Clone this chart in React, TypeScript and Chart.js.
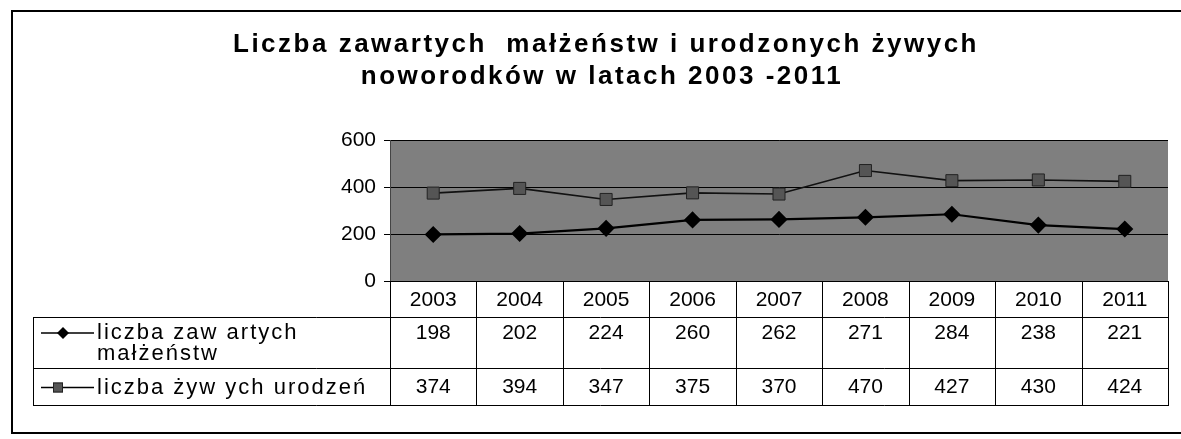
import React, { useEffect, useRef } from "react";
import { Chart, registerables } from "chart.js";

Chart.register(...registerables);

const years = ["2003", "2004", "2005", "2006", "2007", "2008", "2009", "2010", "2011"];
const marriages = [198, 202, 224, 260, 262, 271, 284, 238, 221];
const births = [374, 394, 347, 375, 370, 470, 427, 430, 424];
const yMin = 0;
const yMax = 600;
const yStep = 200;
const titleLines = [
  "Liczba zawartych  małżeństw i urodzonych żywych",
  "noworodków w latach 2003 -2011",
];
const marriagesLabel = ["liczba zaw artych", "małżeństw"];
const birthsLabel = ["liczba żyw ych urodzeń"];

const FONT = '"Liberation Sans", Arial, sans-serif';
const W = 1181;
const H = 439;

const frame = {
  left: 12,
  top: 11,
  right: 1186,
  bottom: 433,
  headerBottom: 317,
  row1Bottom: 368,
  tableBottom: 405,
  legendLeft: 33,
};

function drawDiamond(ctx: CanvasRenderingContext2D, x: number, y: number, r: number) {
  ctx.beginPath();
  ctx.moveTo(x, y - r);
  ctx.lineTo(x + r, y);
  ctx.lineTo(x, y + r);
  ctx.lineTo(x - r, y);
  ctx.closePath();
  ctx.fillStyle = "#000";
  ctx.fill();
}

function drawSquare(ctx: CanvasRenderingContext2D, x: number, y: number, h: number) {
  ctx.fillStyle = "#555";
  ctx.fillRect(x - h, y - h, 2 * h, 2 * h);
  ctx.strokeStyle = "#222";
  ctx.lineWidth = 1;
  ctx.strokeRect(x - h + 0.5, y - h + 0.5, 2 * h - 1, 2 * h - 1);
}

const backgroundPlugin = {
  id: "plotBackground",
  beforeDraw(chart: any) {
    const { ctx, chartArea } = chart;
    ctx.save();
    ctx.fillStyle = "#fff";
    ctx.fillRect(0, 0, chart.width, chart.height);
    ctx.fillStyle = "#7f7f7f";
    ctx.fillRect(chartArea.left, chartArea.top, chartArea.right - chartArea.left, chartArea.bottom - chartArea.top);
    ctx.restore();
  },
};

const decorPlugin = {
  id: "decor",
  afterDraw(chart: any) {
    const { ctx, chartArea } = chart;
    const xs = chart.scales.x;
    ctx.save();

    // outer frame
    ctx.strokeStyle = "#000";
    ctx.lineWidth = 2;
    ctx.strokeRect(frame.left, frame.top, frame.right - frame.left, frame.bottom - frame.top);

    // title
    ctx.fillStyle = "#000";
    ctx.font = `bold 26px ${FONT}`;
    (ctx as any).letterSpacing = "2.5px";
    ctx.textAlign = "center";
    ctx.textBaseline = "middle";
    ctx.fillText(titleLines[0], 606, 45);
    ctx.fillText(titleLines[1], 602, 77);
    (ctx as any).letterSpacing = "0px";

    // data table
    const n = years.length;
    const colW = (chartArea.right - chartArea.left) / n;
    const top = chartArea.bottom;
    const right = chartArea.right;
    ctx.strokeStyle = "#000";
    ctx.lineWidth = 1;
    ctx.beginPath();
    ctx.moveTo(chartArea.left, top + 0.5);
    ctx.lineTo(right, top + 0.5);
    ctx.moveTo(frame.legendLeft, frame.headerBottom + 0.5);
    ctx.lineTo(right, frame.headerBottom + 0.5);
    ctx.moveTo(frame.legendLeft, frame.row1Bottom + 0.5);
    ctx.lineTo(right, frame.row1Bottom + 0.5);
    ctx.moveTo(frame.legendLeft, frame.tableBottom + 0.5);
    ctx.lineTo(right, frame.tableBottom + 0.5);
    ctx.moveTo(frame.legendLeft + 0.5, frame.headerBottom);
    ctx.lineTo(frame.legendLeft + 0.5, frame.tableBottom + 1);
    for (let i = 0; i <= n; i++) {
      const c = i < n ? xs.getPixelForValue(i) - colW / 2 : xs.getPixelForValue(n - 1) + colW / 2;
      const xx = Math.round(c) + 0.5;
      ctx.moveTo(xx, top);
      ctx.lineTo(xx, frame.tableBottom + 1);
    }
    ctx.stroke();

    ctx.font = `21px ${FONT}`;
    ctx.textAlign = "center";
    ctx.textBaseline = "middle";
    ctx.fillStyle = "#000";
    const headerMid = (top + frame.headerBottom) / 2 + 1;
    const row1Mid = frame.headerBottom + 16;
    const row2Mid = (frame.row1Bottom + frame.tableBottom) / 2 + 1;
    for (let i = 0; i < n; i++) {
      const cx = xs.getPixelForValue(i);
      ctx.fillText(years[i], cx, headerMid);
      ctx.fillText(String(marriages[i]), cx, row1Mid);
      ctx.fillText(String(births[i]), cx, row2Mid);
    }

    // legend keys
    ctx.strokeStyle = "#000";
    ctx.lineWidth = 1.5;
    ctx.beginPath();
    ctx.moveTo(41, row1Mid);
    ctx.lineTo(94, row1Mid);
    ctx.moveTo(41, row2Mid);
    ctx.lineTo(94, row2Mid);
    ctx.stroke();
    drawDiamond(ctx, 63, row1Mid, 6);
    drawSquare(ctx, 58, row2Mid, 5);
    ctx.textAlign = "left";
    ctx.fillStyle = "#000";
    ctx.font = `22px ${FONT}`;
    (ctx as any).letterSpacing = "2px";
    ctx.fillText(marriagesLabel[0], 97, row1Mid);
    ctx.fillText(marriagesLabel[1], 97, row1Mid + 21);
    ctx.fillText(birthsLabel[0], 97, row2Mid);
    (ctx as any).letterSpacing = "0px";

    ctx.restore();
  },
};

export default function App() {
  const ref = useRef<HTMLCanvasElement | null>(null);

  useEffect(() => {
    document.body.style.margin = "0";
    const canvas = ref.current;
    if (!canvas) return;
    const chart = new Chart(canvas, {
      type: "line",
      data: {
        labels: years,
        datasets: [
          {
            label: marriagesLabel.join(" "),
            data: marriages,
            borderColor: "#000",
            borderWidth: 2.2,
            backgroundColor: "#000",
            pointStyle: "rectRot",
            pointRadius: 7,
            pointBorderColor: "#000",
            pointBackgroundColor: "#000",
            tension: 0,
          },
          {
            label: birthsLabel[0],
            data: births,
            borderColor: "#111",
            borderWidth: 1.6,
            backgroundColor: "#555",
            pointStyle: "rect",
            pointRadius: 8.5,
            pointBorderColor: "#222",
            pointBorderWidth: 1,
            pointBackgroundColor: "#555",
            tension: 0,
          },
        ],
      },
      options: {
        animation: false,
        responsive: false,
        devicePixelRatio: 1,
        layout: { padding: { left: 0, top: 140, right: 13, bottom: H - 281 } },
        plugins: {
          legend: { display: false },
          title: { display: false },
          tooltip: { enabled: false },
        },
        scales: {
          x: {
            type: "category",
            offset: true,
            display: false,
          },
          y: {
            min: yMin,
            max: yMax,
            ticks: {
              stepSize: yStep,
              color: "#000",
              font: { family: FONT, size: 21 },
              padding: 8,
            },
            grid: {
              color: "#000",
              lineWidth: 1,
              tickLength: 6,
              drawOnChartArea: true,
            },
            border: { display: true, color: "#444", width: 1 },
            afterFit(scale: any) {
              scale.width = 390;
            },
          },
        },
      },
      plugins: [backgroundPlugin, decorPlugin],
    });
    return () => chart.destroy();
  }, []);

  return (
    <div style={{ position: "absolute", left: 0, top: 0, width: W, height: H }}>
      <canvas ref={ref} width={W} height={H} style={{ width: W, height: H, display: "block" }} />
    </div>
  );
}
